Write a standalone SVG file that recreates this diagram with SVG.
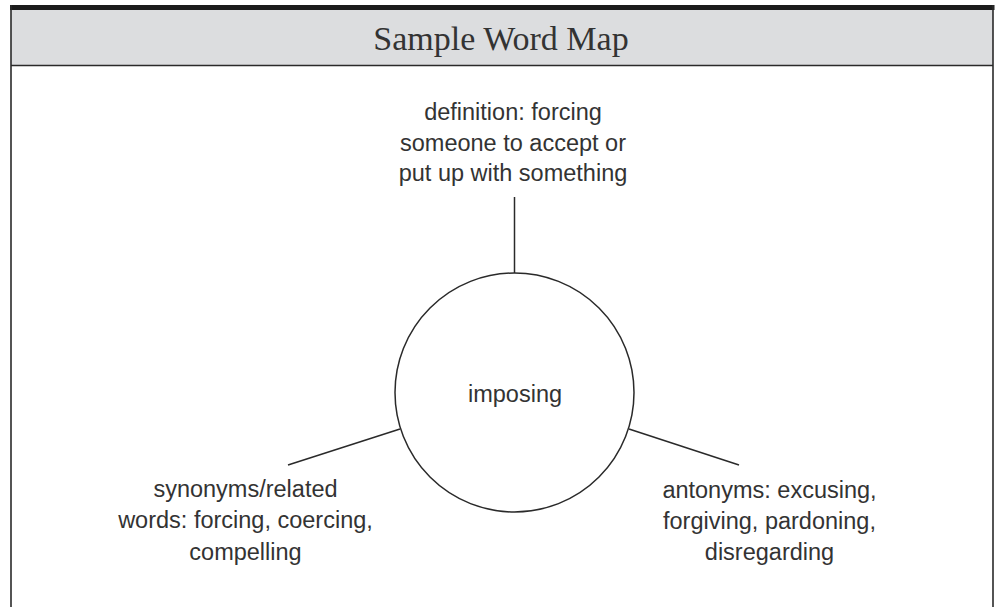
<svg xmlns="http://www.w3.org/2000/svg" width="995" height="607" viewBox="0 0 995 607">
<style>
.frame{stroke:#2a2a2a;stroke-width:1.6;fill:none}
.conn{stroke:#2a2a2a;stroke-width:1.5;fill:none}
.lbl{font-family:"Liberation Sans","Open Sans",sans-serif;font-size:23.5px;fill:#333;text-anchor:middle}
.title{font-family:"Liberation Serif","DejaVu Serif",serif;font-size:34px;fill:#333;text-anchor:middle}
</style>
<rect width="995" height="607" fill="#ffffff"/>
<g id="frame">
<rect x="11" y="9" width="982" height="56.5" fill="#dcdddf"/>
<rect x="10" y="5" width="984.5" height="5" fill="#1c1c1c"/>
<line class="frame" x1="11" y1="65.5" x2="993" y2="65.5"/>
<line class="frame" x1="11" y1="5" x2="11" y2="607"/>
<line class="frame" x1="993" y1="5" x2="993" y2="607"/>
<text class="title" x="501" y="50">Sample Word Map</text>
</g>
<g id="connectors">
<line class="conn" x1="514.5" y1="197" x2="514.5" y2="273"/>
<line class="conn" x1="288" y1="465" x2="400" y2="429"/>
<line class="conn" x1="629" y1="429" x2="739" y2="465"/>
</g>
<g id="center">
<circle class="conn" cx="514.5" cy="392.5" r="119.5" fill="#fff"/>
<text class="lbl" x="515" y="402">imposing</text>
</g>
<g id="definition">
<text class="lbl" x="513" y="120">definition: forcing</text>
<text class="lbl" x="513" y="151">someone to accept or</text>
<text class="lbl" x="513" y="181">put up with something</text>
</g>
<g id="synonyms">
<text class="lbl" x="245.5" y="497">synonyms/related</text>
<text class="lbl" x="245.5" y="528">words: forcing, coercing,</text>
<text class="lbl" x="245.5" y="560">compelling</text>
</g>
<g id="antonyms">
<text class="lbl" x="769.5" y="498">antonyms: excusing,</text>
<text class="lbl" x="769.5" y="529">forgiving, pardoning,</text>
<text class="lbl" x="769.5" y="560">disregarding</text>
</g>
</svg>
